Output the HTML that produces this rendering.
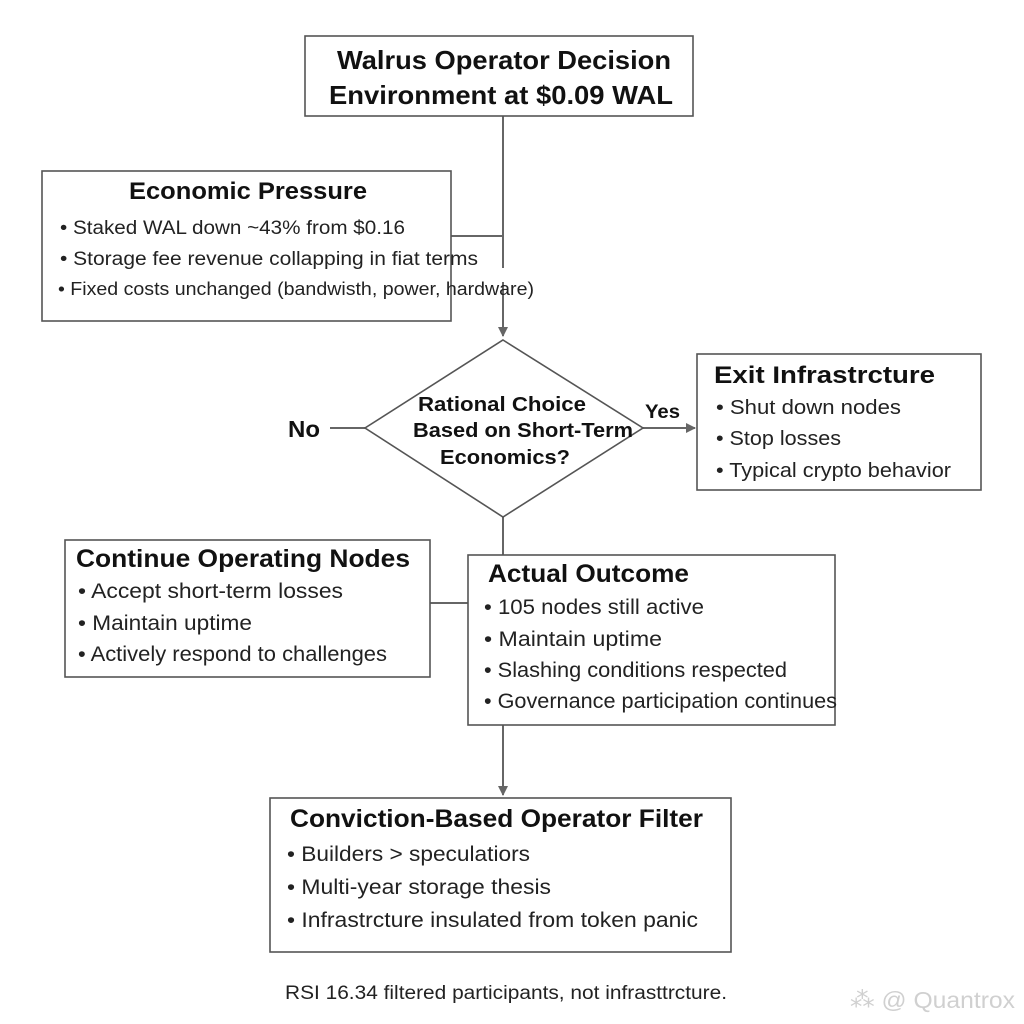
<!DOCTYPE html>
<html><head><meta charset="utf-8"><style>
html,body{margin:0;padding:0;background:#fff;}
svg{display:block;font-family:"Liberation Sans",Arial,sans-serif;}
.t{font-weight:bold;fill:#111;}
.b{fill:#222;}
</style></head><body>
<svg width="1024" height="1024" viewBox="0 0 1024 1024">
<defs><marker id="a" markerWidth="10" markerHeight="10" refX="9" refY="5" orient="auto" markerUnits="userSpaceOnUse"><path d="M0,0 L10,5 L0,10 Z" fill="#666"/></marker></defs>
<g stroke="#666" stroke-width="2" fill="none">
<line x1="503" y1="116" x2="503" y2="268"/>
<line x1="421" y1="236" x2="503" y2="236"/>
<line x1="503" y1="282" x2="503" y2="336" marker-end="url(#a)"/>
<line x1="643" y1="428" x2="695" y2="428" marker-end="url(#a)"/>
<line x1="330" y1="428" x2="365" y2="428"/>
<line x1="503" y1="517" x2="503" y2="555"/>
<line x1="430" y1="603" x2="468" y2="603"/>
<line x1="503" y1="725" x2="503" y2="795" marker-end="url(#a)"/>
</g>
<g stroke="#555" stroke-width="1.6" fill="#fff">
<rect x="305" y="36" width="388" height="80"/>
<rect x="42" y="171" width="409" height="150"/>
<polygon points="503,340 643,428 503,517 365,428"/>
<rect x="697" y="354" width="284" height="136"/>
<rect x="65" y="540" width="365" height="137"/>
<rect x="468" y="555" width="367" height="170"/>
<rect x="270" y="798" width="461" height="154"/>
</g>
<g lengthAdjust="spacingAndGlyphs">
<text class="t" x="337" y="69" font-size="26" textLength="334" lengthAdjust="spacingAndGlyphs">Walrus Operator Decision</text>
<text class="t" x="329" y="104" font-size="26" textLength="344" lengthAdjust="spacingAndGlyphs">Environment at $0.09 WAL</text>
<text class="t" x="129" y="199" font-size="24" textLength="238" lengthAdjust="spacingAndGlyphs">Economic Pressure</text>
<text class="b" x="60" y="234" font-size="19" textLength="345" lengthAdjust="spacingAndGlyphs">•  Staked WAL down ~43% from $0.16</text>
<text class="b" x="60" y="265" font-size="19" textLength="418" lengthAdjust="spacingAndGlyphs">•  Storage fee revenue collapping in fiat terms</text>
<text class="b" x="58" y="295" font-size="18" textLength="476" lengthAdjust="spacingAndGlyphs">• Fixed costs unchanged (bandwisth, power, hardware)</text>
<text class="t" x="418" y="411" font-size="20" textLength="168" lengthAdjust="spacingAndGlyphs">Rational Choice</text>
<text class="t" x="413" y="437" font-size="20" textLength="220" lengthAdjust="spacingAndGlyphs">Based on Short-Term</text>
<text class="t" x="440" y="464" font-size="20" textLength="130" lengthAdjust="spacingAndGlyphs">Economics?</text>
<text class="t" x="288" y="437" font-size="23" textLength="32" lengthAdjust="spacingAndGlyphs">No</text>
<text class="t" x="645" y="418" font-size="19" textLength="35" lengthAdjust="spacingAndGlyphs">Yes</text>
<text class="t" x="714" y="383" font-size="24" textLength="221" lengthAdjust="spacingAndGlyphs">Exit Infrastrcture</text>
<text class="b" x="716" y="414" font-size="20" textLength="185" lengthAdjust="spacingAndGlyphs">•  Shut down nodes</text>
<text class="b" x="716" y="445" font-size="20" textLength="125" lengthAdjust="spacingAndGlyphs">•  Stop losses</text>
<text class="b" x="716" y="477" font-size="20" textLength="235" lengthAdjust="spacingAndGlyphs">•  Typical crypto behavior</text>
<text class="t" x="76" y="567" font-size="25" textLength="334" lengthAdjust="spacingAndGlyphs">Continue Operating Nodes</text>
<text class="b" x="78" y="598" font-size="21" textLength="265" lengthAdjust="spacingAndGlyphs">•  Accept short-term losses</text>
<text class="b" x="78" y="630" font-size="21" textLength="174" lengthAdjust="spacingAndGlyphs">•  Maintain uptime</text>
<text class="b" x="78" y="661" font-size="21" textLength="309" lengthAdjust="spacingAndGlyphs">•  Actively respond to challenges</text>
<text class="t" x="488" y="582" font-size="25" textLength="201" lengthAdjust="spacingAndGlyphs">Actual Outcome</text>
<text class="b" x="484" y="614" font-size="21" textLength="220" lengthAdjust="spacingAndGlyphs">•  105 nodes still active</text>
<text class="b" x="484" y="646" font-size="21" textLength="178" lengthAdjust="spacingAndGlyphs">•  Maintain uptime</text>
<text class="b" x="484" y="677" font-size="21" textLength="303" lengthAdjust="spacingAndGlyphs">•  Slashing conditions respected</text>
<text class="b" x="484" y="708" font-size="21" textLength="353" lengthAdjust="spacingAndGlyphs">•  Governance participation continues</text>
<text class="t" x="290" y="827" font-size="25" textLength="413" lengthAdjust="spacingAndGlyphs">Conviction-Based Operator Filter</text>
<text class="b" x="287" y="861" font-size="21" textLength="243" lengthAdjust="spacingAndGlyphs">•  Builders &gt; speculatiors</text>
<text class="b" x="287" y="894" font-size="21" textLength="264" lengthAdjust="spacingAndGlyphs">•  Multi-year storage thesis</text>
<text class="b" x="287" y="927" font-size="21" textLength="411" lengthAdjust="spacingAndGlyphs">•  Infrastrcture insulated from token panic</text>
<text class="b" x="285" y="999" font-size="19" textLength="442" lengthAdjust="spacingAndGlyphs">RSI 16.34 filtered participants, not infrasttrcture.</text>
<text x="850" y="1008" font-size="23" fill="#d0d0d0" textLength="165" lengthAdjust="spacingAndGlyphs">⁂ @ Quantrox</text>
</g>
</svg>
</body></html>
